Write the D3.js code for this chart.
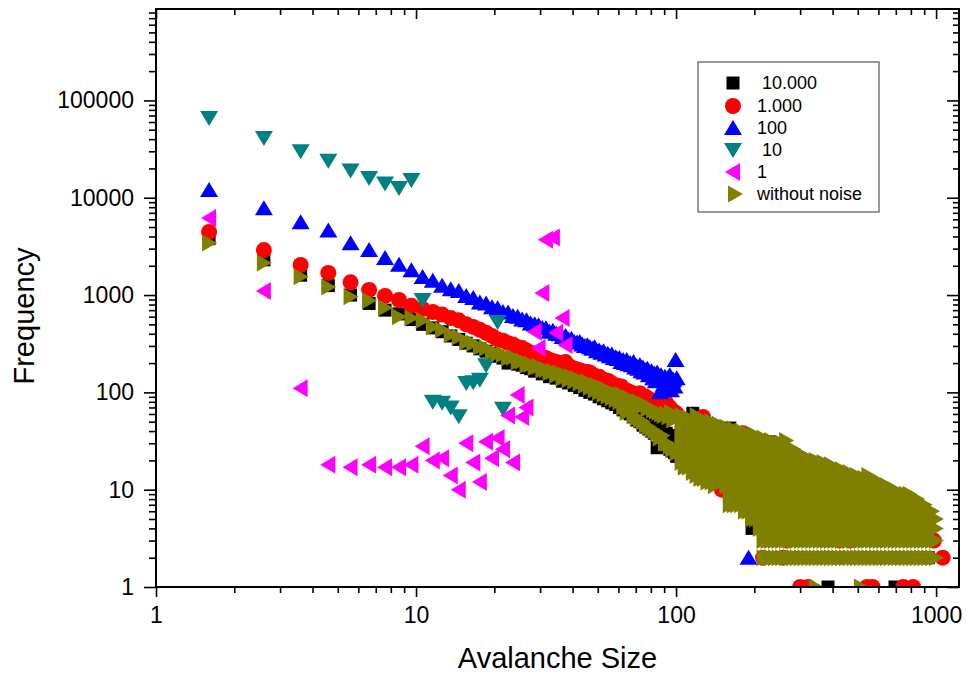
<!DOCTYPE html>
<html><head><meta charset="utf-8">
<script src="https://cdn.jsdelivr.net/npm/d3@7"></script>
<style>
html,body{margin:0;padding:0;background:#fff;}
svg{display:block;font-family:Arial,"Liberation Sans",sans-serif;}
</style></head><body>
<svg id="chart" width="966" height="677"></svg>
<script>
// ---------- DATA ----------
const binSizes = [1.6,2.6,3.6,4.6,5.6,6.6,7.6,8.6,9.6,10.6,11.6,12.6,13.6,14.6,15.6,16.6,17.6,18.6,19.6,20.6,
 21.6,22.6,23.6,24.6,25.6,26.6,27.6,28.6,29.6,30.6,31.6,32.6,33.6,34.6,35.6,36.6,37.6,38.6,39.6,40.6,
 41.6,42.6,43.6,44.6,45.6,46.6,47.6,48.6,49.6,50.6,51.6,52.6,53.6,54.6,55.6,56.6,57.6,58.6,59.6,60.6,
 61.6,62.6,63.6,64.6,65.6,66.6,67.6,68.6,69.6,70.6,71.6,72.6,73.6,74.6,75.6,76.6,77.6,78.6,79.6,80.6,
 81.6,82.6,83.6,84.6,85.6,86.6,87.6,88.6,89.6,90.6,91.6,92.6,93.6,94.6,95.6,96.6,97.6,98.6,99.6,100.6];

const freq10000 = [3800,2300,1600,1250,1000,820,700,640,560,500,
 460,420,380,350,320,300,280,265,250,235,
 225,200,215,195,190,180,175,165,170,155,
 160,145,150,140,145,130,138,125,128,118,
 122,112,118,105,110,100,105,96,100,90,
 95,86,92,82,88,78,84,75,80,70,
 76,66,74,62,70,60,66,56,64,52,
 60,50,58,46,55,44,52,42,50,40,
 48,38,46,27,44,35,42,32,40,30,
 38,28,36,26,34,25,32,24,30,22];
const tail10000Sizes = [110,116,128,146,161,178,196,217,228,248,283,309,345,384,421,490,549,610,695,765,846,934];
const tail10000Freqs = [[40,20],[61,30],[45,22],[38,15],[43,12],[30,8],[26,4],[24,6,2],[31,10,3],[20,5,2],[18,4,2],
 [20,3,2],[14,4,2],[12,3,2,1],[10,3,2],[13,3,2],[9,4,2],[8,3,2],[7,4,2,1],[6,3,2],[5,3,2],[4,2]];

const freq1000 = [4450,2900,2040,1690,1350,1130,980,890,775,
 720,670,630,580,550,500,470,440,410,380,350,340,320,310,290,285,270,255,250,240,230,
 225,215,210,205,200,195,205,185,180,175,172,168,165,160,162,160,150,148,140,145,
 138,135,130,132,128,122,120,118,116,112,115,108,105,104,102,100,98,97,95,94,
 90,98,88,86,85,90,82,80,84,78,77,80,76,74,78,72,78,70,72,68,
 78,66,65,70,62,64,60,63,58,60];
const tail1000Sizes = [106,115,127,140,150,165,181,200,216,245,258,266,300,322,360,393,415,426,467,543,570,640,700,748,773,816,830,900,980,1060];
const tail1000Freqs = [[50],[45],[56],[40],[10],[38],[38],[28],[2],[22,5],[2],[3],[1],[1],[12],[12],[12],[3],[3],[1],[1],
 [7],[6],[1],[6],[1],[5],[4],[3],[2]];

const freq100 = [12000,7800,5600,4600,3400,2900,2400,2050,1800,1530,1400,1250,1150,1100,980,
 930,840,820,750,730,670,660,610,600,560,550,510,500,490,460,455,420,430,400,395,370,380,350,355,330,
 325,330,310,300,305,290,280,290,265,270,255,265,245,250,235,245,225,230,220,225,
 205,215,200,215,195,200,190,205,180,185,175,190,165,180,160,170,175,150,160,165,
 140,155,130,160,140,100,150,135,120,145,110,140,125,150,105,130,135,115,215,140];
const extra100Sizes = [190];
const extra100Freqs = [2];

const sizes10 = [1.6,2.6,3.6,4.6,5.6,6.6,7.6,8.6,9.6,10.6,11.6,12.6,13.6,14.6,15.6,16.6,17.6,18.6,19.6,20.6,21.6];
const freq10 = [66000,41000,30000,24000,19000,16000,14000,12600,15200,890,80,78,70,57,125,127,135,190,240,530,68];

const sizes1 = [1.6,2.6,3.6,4.6,5.6,6.6,7.6,8.6,9.6,10.6,11.6,12.6,13.6,14.6,15.6,16.6,17.6,18.6,19.6,20.6,
 21.6,22.6,23.6,24.6,25.6,26.6,28.6,29.6,30.6,31.6,33.6,34.6,36.6,37.6];
const freq1 = [6200,1100,110,18,17,18,17,17,18,28,20,21,14,10,30,19,12,31,21,34,
 26,58,19,94,56,70,420,286,1050,3700,3900,410,580,307];

const freqNoNoise = [3430,2140,1540,1210,960,880,740,600,580,550,
 470,440,390,370,330,320,290,285,260,250,
 245,225,230,205,210,190,195,180,185,170,
 172,160,165,150,158,140,150,135,145,130,
 138,125,130,118,128,112,120,105,118,100,
 112,95,108,92,100,88,98,84,95,80,
 95,70,85,62,88,66,80,58,78,55,
 80,52,72,50,75,46,68,44,70,42,
 66,40,64,38,62,34,60,36,58,30,
 60,30,56,28,62,26,52,27,58,24];
const tailNoNoiseSizes = [105,112,120,128,137,146,156,167,178,190,203,217,232,248,265,283,302,323,345,369,394,421,450,481,514,549,587,627,670,716,765,818,874,934,998];
const tailNoNoiseFreqs = [
 [58,46,37,30,24,19],[55,44,35,28,22,17],[58,46,36,28,22,17,14],[52,42,33,26,20,16,13],
 [50,40,32,25,20,15,12],[47,37,29,23,18,14,12],[44,35,28,22,17,13,11],[42,33,26,20,16,12,9,7],
 [40,31,24,19,15,12,9,7],[38,30,23,18,14,11,8,6],[36,28,22,17,13,10,8,6,5],
 [34,27,21,16,12,9,7,6,5,4,3,2],[32,25,19,15,12,9,7,6,5,4,3,2],[30,24,18,14,11,9,7,6,5,4,3,2],
 [32,25,19,15,12,9,7,6,5,4,3,2],[26,21,17,13,10,8,6,5,4,3,2],[23,18,14,11,9,7,6,5,4,3,2],
 [21,17,13,10,8,6,5,4,3,2],[20,16,12,10,8,6,5,4,3,2,1],[19,15,12,9,7,6,5,4,3,2],
 [18,14,11,9,7,6,5,4,3,2],[16,13,10,8,6,5,4,3,2],[15,12,10,8,6,5,4,3,2],[14,11,9,7,6,5,4,3,2],
 [13,10,8,6,5,4,3,2,1],[14,11,9,7,6,5,4,3,2],[12,10,8,6,5,4,3,2],[11,9,7,6,5,4,3,2],
 [10,8,7,6,5,4,3,2],[9,8,7,6,5,4,3,2],[9,7,6,5,4,3,2],[8,7,6,5,4,3,2],[7,6,5,4,3,2],
 [6,5,4,3,2],[5,4,3,2]];
const midNoNoiseSizes = [108,116,124,132,141,151,161,172,184,196,210,225,240,256,274,292,312,334,357,381,407,435,
 465,497,531,568,607,648,693,740,791,845,903,965];
const midNoNoiseFreqs = [
 [52,41,33,26,21,17],[50,40,31,25,20,15],[54,43,34,27,21,17,13],[48,38,30,24,19,15,12],
 [46,36,28,22,17,13,11],[43,34,27,21,16,13],[41,32,25,20,15,11,9,7],[39,30,23,18,14,11,8,7],
 [37,29,22,17,13,10,8,6],[35,27,21,16,12,9,7,6,5],[33,26,20,15,12,9,7,6,5,4],
 [31,24,19,15,12,9,7,6,5,4,3,2],[29,23,18,14,11,9,7,6,5,4,3,2],[30,23,18,14,11,9,7,6,5,4,3,2],
 [27,21,16,13,10,8,6,5,4,3,2],[24,19,15,12,9,7,6,5,4,3,2],[22,17,14,11,9,7,6,5,4,3,2],
 [20,16,13,10,8,7,6,5,4,3,2],[19,15,12,10,8,6,5,4,3,2],[18,15,12,9,7,6,5,4,3,2],
 [17,13,11,9,7,6,5,4,3,2],[16,13,10,8,7,6,5,4,3,2],[15,12,10,8,6,5,4,3,2],[14,11,9,7,6,5,4,3,2],
 [13,11,9,7,6,5,4,3,2],[13,10,8,7,6,5,4,3,2],[12,9,8,7,6,5,4,3,2],[11,9,8,7,6,5,4,3,2],
 [10,8,7,6,5,4,3,2],[9,8,7,6,5,4,3,2],[9,7,6,5,4,3,2],[8,7,6,5,4,3,2],[7,6,5,4,3,2],[6,5,4,3,2]];

const seriesNames = [" 10.000","1.000","100"," 10","1","without noise"];
const seriesColors = ["#000000","#ff0000","#0000ff","#008080","#ff00ff","#808000"];
const xTickLabels = [1,10,100,1000];
const yTickLabels = [1,10,100,1000,10000,100000];

// ---------- helpers ----------
function pairs(sz, fr){ return sz.map((s,i)=>({x:s,y:fr[i]})); }
function tail(sz, frs){ const out=[]; sz.forEach((s,i)=>frs[i].forEach(f=>out.push({x:s,y:f}))); return out; }

const series = [
 {name:seriesNames[0], color:seriesColors[0], shape:"square", pts: pairs(binSizes,freq10000).concat(tail(tail10000Sizes,tail10000Freqs))},
 {name:seriesNames[1], color:seriesColors[1], shape:"circle", pts: pairs(binSizes,freq1000).concat(tail(tail1000Sizes,tail1000Freqs))},
 {name:seriesNames[2], color:seriesColors[2], shape:"up", pts: pairs(binSizes,freq100).concat(pairs(extra100Sizes,extra100Freqs))},
 {name:seriesNames[3], color:seriesColors[3], shape:"down", pts: pairs(sizes10,freq10)},
 {name:seriesNames[4], color:seriesColors[4], shape:"left", pts: pairs(sizes1,freq1)},
 {name:seriesNames[5], color:seriesColors[5], shape:"right", pts: pairs(binSizes,freqNoNoise)
    .concat(tail(tailNoNoiseSizes,tailNoNoiseFreqs)).concat(tail(midNoNoiseSizes,midNoNoiseFreqs))}
];

const shapePath = {
 square: "M-6.5,-6.5h13v13h-13Z",
 up: "M0,-8L9,7L-9,7Z",
 down: "M0,8L9,-7L-9,-7Z",
 left: "M-8,0L7,-9L7,9Z",
 right: "M8,0L-7,-8.5L-7,8.5Z"
};

// ---------- layout ----------
const L=156, R=959, T=9, B=587;
const svg = d3.select("#chart");
const x = d3.scaleLog().domain([1,1225]).range([L,R]);
const y = d3.scaleLog().domain([1,870000]).range([B,T]);

function minors(maxDec, limit){ const a=[]; for(let d=0; d<=maxDec; d++){ for(let k=2;k<=9;k++){ const v=k*Math.pow(10,d); if(v<=limit) a.push(v);} } return a; }
const xMinor = minors(3, 1225), yMinor = minors(5, 870000);

svg.append("defs").append("clipPath").attr("id","plotclip")
 .append("rect").attr("x",L).attr("y",T).attr("width",R-L).attr("height",B-T);

// data
const plot = svg.append("g").attr("clip-path","url(#plotclip)");
series.forEach(s=>{
 const g = plot.append("g").attr("fill", s.color);
 if (s.shape==="circle"){
   g.selectAll("circle").data(s.pts).join("circle")
    .attr("cx",d=>x(d.x)).attr("cy",d=>y(d.y)).attr("r",8);
 } else {
   g.selectAll("path").data(s.pts).join("path")
    .attr("d",shapePath[s.shape])
    .attr("transform",d=>`translate(${x(d.x)},${y(d.y)})`);
 }
});

// axes
function styleAxis(g){
 g.select(".domain").remove();
 g.selectAll(".tick line").attr("stroke","#000").attr("stroke-width",1.6);
 g.selectAll("text").attr("fill","#000").attr("font-size","23px").attr("font-family","Arial, 'Liberation Sans', sans-serif");
}
const fmt = d3.format("d");
svg.append("g").attr("transform",`translate(0,${B})`)
 .call(d3.axisBottom(x).tickValues(xTickLabels).tickSize(10).tickPadding(10).tickFormat(fmt)).call(styleAxis);
svg.append("g").attr("transform",`translate(0,${B})`)
 .call(d3.axisBottom(x).tickValues(xMinor).tickSize(6).tickFormat("")).call(styleAxis);
svg.append("g").attr("transform",`translate(0,${T})`)
 .call(d3.axisTop(x).tickValues(xTickLabels).tickSize(-10).tickFormat("")).call(styleAxis);
svg.append("g").attr("transform",`translate(0,${T})`)
 .call(d3.axisTop(x).tickValues(xMinor).tickSize(-6).tickFormat("")).call(styleAxis);
svg.append("g").attr("transform",`translate(${L},0)`)
 .call(d3.axisLeft(y).tickValues(yTickLabels).tickSize(12).tickPadding(10).tickFormat(fmt)).call(styleAxis);
svg.append("g").attr("transform",`translate(${L},0)`)
 .call(d3.axisLeft(y).tickValues(yMinor).tickSize(7).tickFormat("")).call(styleAxis);
svg.append("g").attr("transform",`translate(${R},0)`)
 .call(d3.axisRight(y).tickValues(yTickLabels).tickSize(-12).tickFormat("")).call(styleAxis);
svg.append("g").attr("transform",`translate(${R},0)`)
 .call(d3.axisRight(y).tickValues(yMinor).tickSize(-6).tickFormat("")).call(styleAxis);

// frame
svg.append("rect").attr("x",L).attr("y",T).attr("width",R-L).attr("height",B-T)
 .attr("fill","none").attr("stroke","#000").attr("stroke-width",2);

// axis titles
svg.append("text").attr("x",(L+R)/2).attr("y",668).attr("text-anchor","middle")
 .attr("font-size","29px").attr("fill","#000").text("Avalanche Size");
svg.append("text").attr("transform","translate(34,316) rotate(-90)").attr("text-anchor","middle")
 .attr("font-size","29px").attr("fill","#000").text("Frequency");

// legend
const lg = svg.append("g");
lg.append("rect").attr("x",698).attr("y",62).attr("width",181).attr("height",150)
 .attr("fill","#fff").attr("stroke","#555").attr("stroke-width",1.2);
const rowY = [83,106,128,150,172,194];
series.forEach((s,i)=>{
 const cy = rowY[i];
 if (s.shape==="circle"){
   lg.append("circle").attr("cx",733).attr("cy",cy).attr("r",8).attr("fill",s.color);
 } else {
   lg.append("path").attr("d",shapePath[s.shape]).attr("transform",`translate(${733 + (s.shape==="right"?2:0)},${cy})`).attr("fill",s.color);
 }
 lg.append("text").attr("x",757).attr("y",cy).attr("dy","0.35em")
  .attr("font-size","18px").attr("fill","#000").style("white-space","pre").text(s.name);
});
</script>
</body></html>
